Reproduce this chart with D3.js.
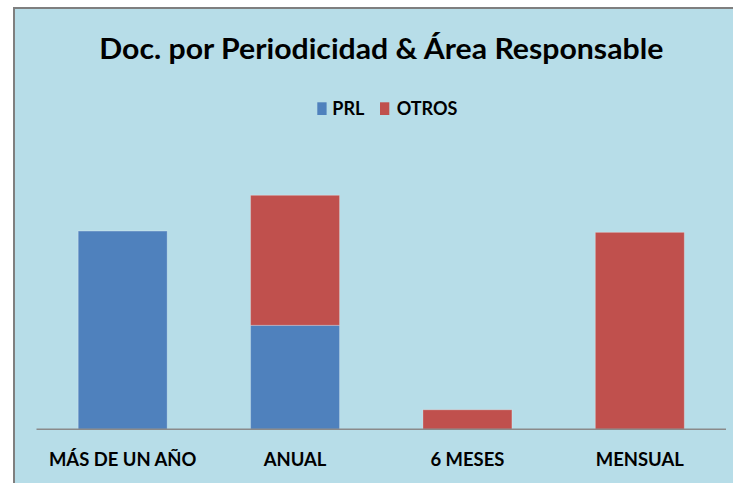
<!DOCTYPE html>
<html>
<head>
<meta charset="utf-8">
<script src="https://cdn.jsdelivr.net/npm/d3@7"></script>
<style>
  html, body { margin: 0; padding: 0; background: #ffffff; }
  svg { display: block; }
  text { font-family: Lato, "Open Sans", sans-serif; font-weight: bold; fill: #000; }
</style>
</head>
<body>
<svg id="chart" width="733" height="483"></svg>
<script>
// ---- data ----
const title = "Doc. por Periodicidad & Área Responsable";
const categories = ["MÁS DE UN AÑO", "ANUAL", "6 MESES", "MENSUAL"];
const seriesNames = ["PRL", "OTROS"];
const prlValues = [30.5, 16, 0, 0];
const otrosValues = [0, 20, 3, 30.3];
const seriesColors = ["#4f81bd", "#c0504d"];

// ---- layout ----
const W = 733, H = 483;
const baseY = 429.3;
const axisLeft = 36.5, axisRight = 726;
const svg = d3.select("#chart");

// chart background with frame
svg.append("rect").attr("x", 14).attr("y", 8).attr("width", W + 10).attr("height", H + 10)
  .attr("fill", "#b7dde8").attr("stroke", "#7f7f7f").attr("stroke-width", 2);

const x = d3.scaleBand().domain(categories).range([axisLeft, axisRight])
  .paddingInner(0.484).paddingOuter(0.242);
const y = d3.scaleLinear().domain([0, 40]).range([baseY, baseY - 260]);

const table = categories.map((c, i) => ({ cat: c, PRL: prlValues[i], OTROS: otrosValues[i] }));
const stacked = d3.stack().keys(seriesNames)(table);

const g = svg.append("g");
stacked.forEach((layer, si) => {
  g.selectAll(null).data(layer.filter(d => d[1] - d[0] > 0)).enter().append("rect")
    .attr("x", d => x(d.data.cat))
    .attr("width", x.bandwidth())
    .attr("y", d => y(d[1]))
    .attr("height", d => y(d[0]) - y(d[1]))
    .attr("fill", seriesColors[si])
    .attr("stroke", "rgba(255,255,255,0.25)")
    .attr("stroke-width", 1);
});

// x axis
const xAxis = d3.axisBottom(x).tickSize(0).tickPadding(0);
const ax = svg.append("g").attr("transform", `translate(0,${baseY})`).call(xAxis);
ax.select(".domain").attr("stroke", "#8a8a8a").attr("stroke-width", 1.5)
  .attr("d", `M${axisLeft},0H${axisRight}`);
ax.selectAll(".tick text")
  .attr("dy", null).attr("y", 36.7)
  .style("font-family", "Lato, sans-serif").style("font-weight", "bold")
  .style("font-size", "19px").attr("fill", "#000")
  .each(function() {
    const w = this.getComputedTextLength();
    d3.select(this).attr("textLength", w * 0.97).attr("lengthAdjust", "spacingAndGlyphs");
  });

// title
svg.append("text").attr("x", 381.3).attr("y", 59.3).attr("text-anchor", "middle")
  .style("font-size", "29px")
  .attr("textLength", 564).attr("lengthAdjust", "spacingAndGlyphs")
  .text(title);

// legend
const legendItems = [
  { sq: 317.3, tx: 332.3 },
  { sq: 380, tx: 396.7 }
];
seriesNames.forEach((name, i) => {
  svg.append("rect").attr("x", legendItems[i].sq).attr("y", 102.3)
    .attr("width", 9.3).attr("height", 12.7).attr("fill", seriesColors[i]);
  svg.append("text").attr("x", legendItems[i].tx).attr("y", 115.3)
    .style("font-size", "18px").text(name);
});
</script>
</body>
</html>
